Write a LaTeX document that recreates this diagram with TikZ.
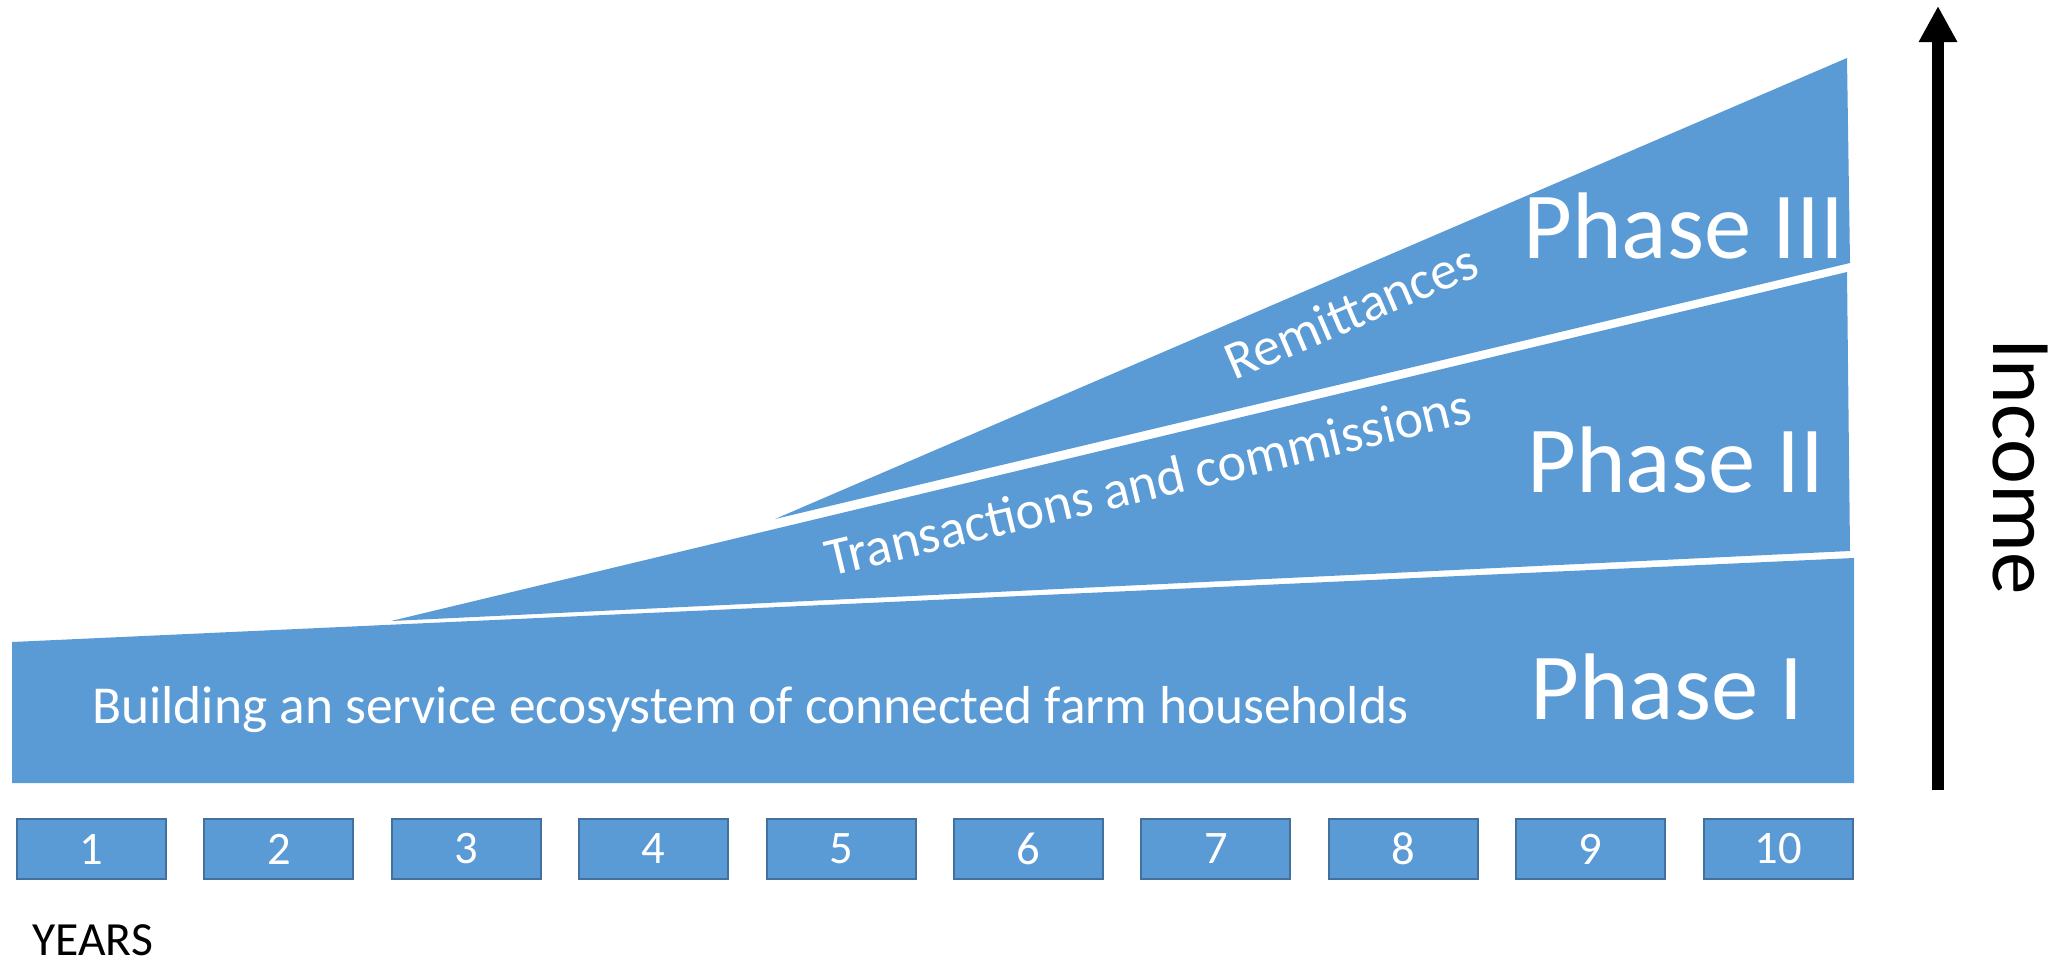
\documentclass[tikz,border=0pt]{standalone}
\usepackage{fontspec}
\setmainfont{Carlito}
\usetikzlibrary{arrows.meta}
\definecolor{phaseblue}{RGB}{91,155,213}
\definecolor{boxedge}{RGB}{65,113,156}
\begin{document}
\begin{tikzpicture}[x=0.5pt,y=-0.5pt,
  band/.style={fill=phaseblue},
  yearbox/.style={draw=boxedge,line width=1pt,fill=phaseblue,
    minimum width=74.5pt,minimum height=30pt,inner sep=0pt,
    text=white,font=\fontsize{23.3}{27}\selectfont},
  bandtext/.style={text=white,inner sep=0pt,anchor=base west,
    font=\fontsize{27}{32}\selectfont},
  phasetext/.style={text=white,inner sep=0pt,anchor=base west,
    font=\fontsize{47.3}{56}\selectfont},
  axistext/.style={text=black,inner sep=0pt,anchor=base west}]
\useasboundingbox (0,0) rectangle (2067,958);

% stacked income bands
\fill[band] (12,642) -- (1854,558) -- (1854,783) -- (12,783) -- cycle;
\fill[band] (391,621) -- (1847,272) -- (1850,551) -- cycle;
\fill[band] (775,519) -- (1847,58) -- (1850,263) -- cycle;

% band descriptions
\node[bandtext,font=\fontsize{26.7}{32}\selectfont] (build) at (92,723)
  {Building an service ecosystem of connected farm households};
\node[bandtext,rotate=13.5] (trans) at (830,577) {Transactions and commissions};
\node[bandtext,rotate=23.2] (remit) at (1234,381) {Remittances};

\node[phasetext] (p1) at (1530,719) {Phase I};
\node[phasetext] (p2) at (1527,492) {Phase II};
\node[phasetext] (p3) at (1523,258) {Phase III};

% year scale
\foreach \i in {1,...,10} {
  \node[yearbox] (y\i) at ({91.5+187.4*(\i-1)},849) {\i};
}
\node[axistext,font=\fontsize{23.8}{28}\selectfont] (years) at (32,955) {YEARS};

% income axis
\coordinate (incomeBase) at (1938,790);
\coordinate (incomeTop) at (1938,6);
\draw[line width=6pt,-{Triangle[width=18pt,length=18pt]}] (incomeBase) -- (incomeTop);
\node[axistext,rotate=-90,font=\fontsize{42.5}{51}\selectfont] (income) at (1993,338) {Income};
\end{tikzpicture}
\end{document}
